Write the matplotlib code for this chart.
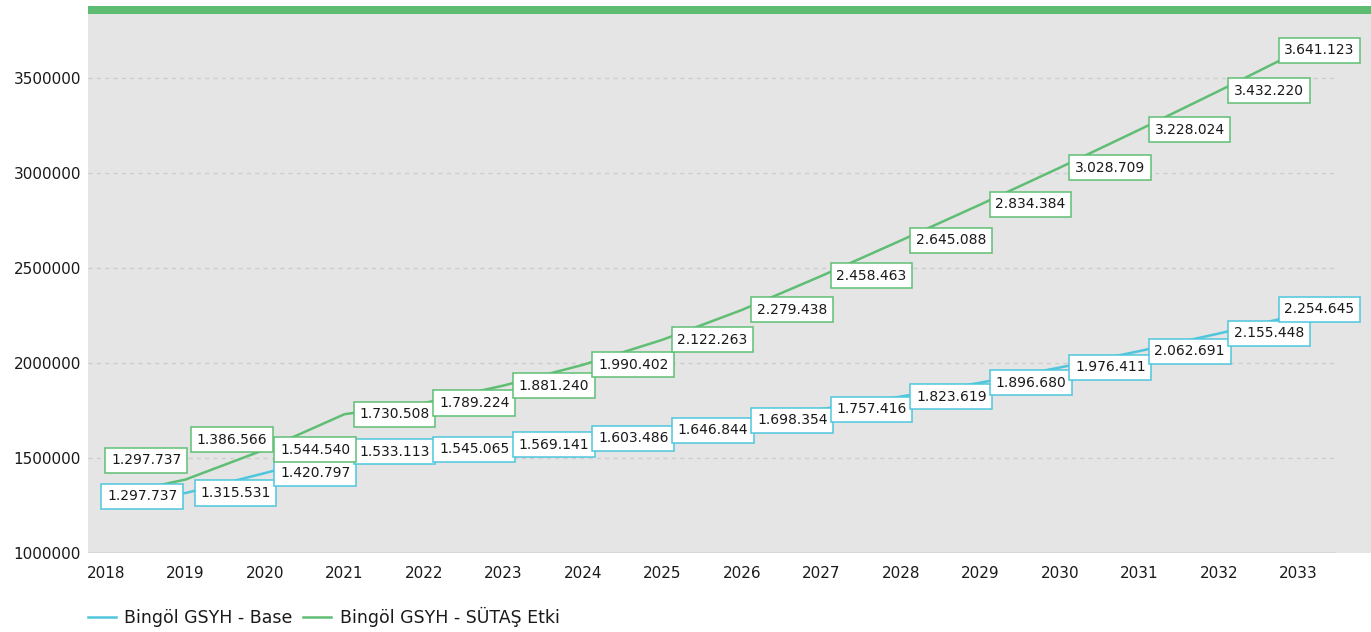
import numpy as np
import matplotlib
matplotlib.use('Agg')
import matplotlib.pyplot as plt
from matplotlib.patches import Rectangle

years = [str(y) for y in range(2018, 2034)]
base_values = [1297737, 1315531, 1420797, 1533113, 1545065, 1569141, 1603486, 1646844,
               1698354, 1757416, 1823619, 1896680, 1976411, 2062691, 2155448, 2254645]
sutas_values = [1297737, 1386566, 1544540, 1730508, 1789224, 1881240, 1990402, 2122263,
                2279438, 2458463, 2645088, 2834384, 3028709, 3228024, 3432220, 3641123]
y_ticks = [1000000, 1500000, 2000000, 2500000, 3000000, 3500000]

BASE_COLOR = "#4FC6DC"
SUTAS_COLOR = "#5FBE74"
BG_COLOR = "#E4E5E4"
TEXT_COLOR = "#1A1A1A"

W, H = 1371, 632
PX = 0.72  # pixels -> points at dpi 100


def _fmt(v):
    return f"{v:,}".replace(",", ".")


def _label_offsets(n):
    # pixel offsets (dx, dy) of each label from its point; default sits right of the point
    base = [(15, 0)] * n
    sutas = [(15, 0)] * n
    base = list(base)
    sutas = list(sutas)
    base[0] = (1, 0)
    sutas[0] = (5, 36)
    sutas[1] = (11, 40)
    return base, sutas


def draw_labels(ax, values, color, offsets, last_dy):
    for i, (v, (dx, dy)) in enumerate(zip(values, offsets)):
        ha = "left"
        if i == len(values) - 1:
            # last label clamped against the right edge
            ha = "right"
            dx, dy = 56, last_dy
        ax.annotate(_fmt(v), xy=(i, v), xytext=(dx * PX, dy * PX), textcoords="offset points",
                    ha=ha, va="center", fontsize=10, color=TEXT_COLOR, zorder=5,
                    bbox=dict(boxstyle="square,pad=0.4", fc="white", ec=color, lw=1.1))


def make_chart():
    fig = plt.figure(figsize=(W / 100, H / 100), dpi=100)
    ax = fig.add_axes([88 / W, (H - 553) / H, (W - 88) / W, 539 / H])
    ax.set_facecolor(BG_COLOR)

    # green band on top of the plot area
    fig.add_artist(Rectangle((88 / W, 1 - 14 / H), (W - 88) / W, 8 / H,
                             transform=fig.transFigure, color="#5DBB72", lw=0))

    x = np.arange(len(years))
    ax.plot(x, base_values, color=BASE_COLOR, lw=1.8, label="Bingöl GSYH - Base", zorder=3)
    ax.plot(x, sutas_values, color=SUTAS_COLOR, lw=1.8, label="Bingöl GSYH - SÜTAŞ Etki", zorder=3)

    base_off, sutas_off = _label_offsets(len(years))
    draw_labels(ax, base_values, BASE_COLOR, base_off, 5.5)
    draw_labels(ax, sutas_values, SUTAS_COLOR, sutas_off, 1)

    ax.set_xlim(-0.2264, 15.912)
    ax.set_ylim(1000000, 3836842)

    grid_end = (1336 - 88) / (W - 88)
    for t in y_ticks[1:]:
        ax.axhline(t, xmin=0, xmax=grid_end, color="#CDCDCD", lw=1, ls=(0, (3, 3)), zorder=1)
    ax.axhline(y_ticks[0], xmin=0, xmax=grid_end, color="#D6D6D6", lw=1.2, zorder=1)

    for s in ax.spines.values():
        s.set_visible(False)

    ax.set_xticks(x)
    ax.set_xticklabels(years)
    ax.set_yticks(y_ticks)
    ax.set_yticklabels([str(t) for t in y_ticks])
    ax.tick_params(axis="x", length=0, pad=9, labelsize=11, labelcolor=TEXT_COLOR)
    ax.tick_params(axis="y", length=0, pad=5, labelsize=11, labelcolor=TEXT_COLOR)

    fig.legend(loc="center left", bbox_to_anchor=(88 / W, 1 - 617 / H), ncol=2,
               frameon=False, fontsize=12.5, handlelength=1.6, handletextpad=0.5,
               columnspacing=0.6, borderpad=0, borderaxespad=0, labelcolor=TEXT_COLOR)

    fig.savefig("out.png", dpi=100, facecolor="white")
    plt.close(fig)


if __name__ == "__main__":
    make_chart()
